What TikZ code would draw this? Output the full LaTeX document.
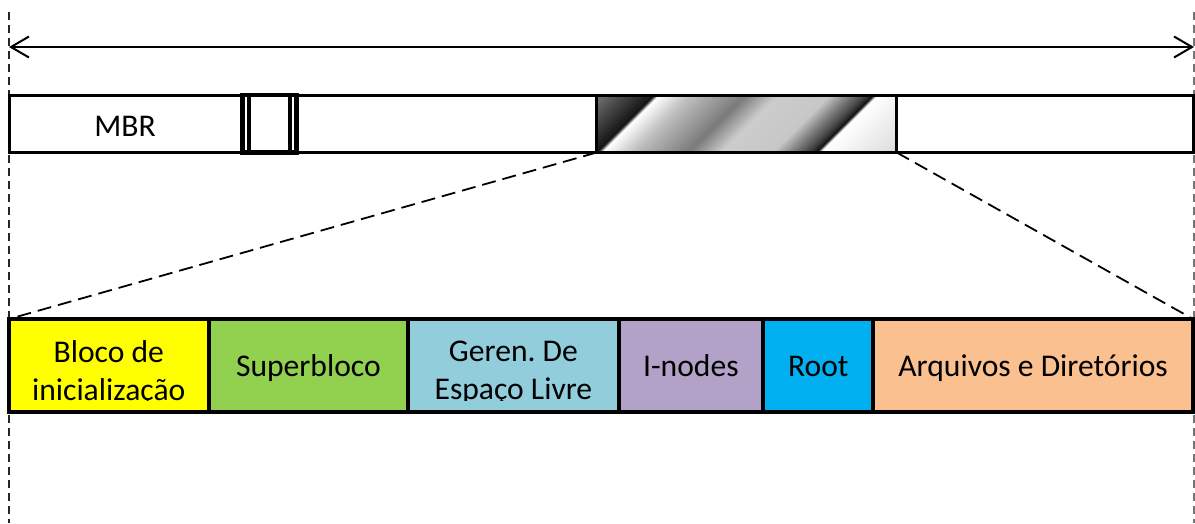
\documentclass[tikz,border=0pt]{standalone}
\usepackage{fontspec}
\setmainfont{Carlito}
\usetikzlibrary{arrows.meta}
\frenchspacing

\newcommand\lbfont{\fontsize{31.6pt}{38pt}\selectfont}

\definecolor{cyellow}{HTML}{FFFF00}
\definecolor{cgreen}{HTML}{92D050}
\definecolor{cteal}{HTML}{92CDDC}
\definecolor{cviolet}{HTML}{B2A2C7}
\definecolor{cblue}{HTML}{00B0F0}
\definecolor{corange}{HTML}{FAC090}

% brushed-metal stripes for the file-system partition
\pgfdeclarehorizontalshading{metal}{100bp}{color(0bp)=(black!55); color(29bp)=(black!55); color(35.2bp)=(black!90); color(35.6bp)=(black!93); color(36.2bp)=(white); color(39.9bp)=(black!25); color(46.4bp)=(black!52); color(50.3bp)=(black!20); color(56.4bp)=(black!22); color(60.7bp)=(black!75); color(61.6bp)=(black!93); color(62.1bp)=(white); color(71bp)=(black!14); color(100bp)=(black!14)}

\begin{document}
\begin{tikzpicture}[x=1pt,y=-1pt,
  guide/.style={line width=1.8pt, dash pattern=on 8pt off 5pt},
  zoomline/.style={line width=1.8pt, dash pattern=on 14pt off 7pt},
  bar/.style={draw, fill=white, line width=3pt, anchor=north west,
    minimum height=57.5pt, inner sep=0pt, outer sep=0pt},
  seg/.style={draw, line width=4pt, anchor=north west,
    minimum height=93pt, inner sep=0pt, outer sep=0pt},
  lbl/.style={font=\lbfont, text height=21pt, text depth=0pt, inner sep=0pt},
  lbltwo/.style={font=\lbfont, align=center, inner sep=0pt, yshift=-7.5pt}]
\useasboundingbox (0,0) rectangle (1195,523);

% disk boundaries
\coordinate (gl-top) at (9,12);
\coordinate (gl-bot) at (9,523);
\coordinate (gr-top) at (1194,12);
\coordinate (gr-bot) at (1194,523);
\draw[guide, black!85] (gl-top) -- (gl-bot);
\draw[guide, black!55, line width=1.5pt] (gr-top) -- (gr-bot);

% whole-disk extent
\coordinate (span-l) at (9,47);
\coordinate (span-r) at (1194,47);
\draw[line width=2pt, {Straight Barb[length=18pt,width=21pt]}-{Straight Barb[length=18pt,width=21pt]}] (span-l) -- (span-r);

% disk layout
\node[bar, minimum width=1184pt] (disk) at (9,95) {};
\node[lbl] (mbr) at (125,126) {MBR};
\node[draw, line width=4.5pt, minimum width=54pt, minimum height=57.5pt,
  anchor=north west, inner sep=0pt, outer sep=0pt] (vbr) at (242.5,95) {};
\draw[line width=4pt] ([xshift=6.2pt]vbr.north west) -- ([xshift=6.2pt]vbr.south west);
\draw[line width=4pt] ([xshift=-6.5pt]vbr.north east) -- ([xshift=-6.5pt]vbr.south east);
\node[bar, minimum width=300pt, path picture={
    \shade[shading=metal, shading angle=-45]
      ([shift={(-150pt,-150pt)}]path picture bounding box.center) rectangle
      ([shift={(150pt,150pt)}]path picture bounding box.center);
  }] (fs) at (596.7,95) {};

% partition layout
\node[seg, fill=cyellow, minimum width=199.5pt] (boot) at (9,319) {};
\node[seg, fill=cgreen, minimum width=199.8pt] (super) at (boot.north east) {};
\node[seg, fill=cteal, minimum width=210.2pt] (free) at (super.north east) {};
\node[seg, fill=cviolet, minimum width=144.8pt] (inodes) at (free.north east) {};
\node[seg, fill=cblue, minimum width=110pt] (root) at (inodes.north east) {};
\node[seg, fill=corange, minimum width=319.7pt] (files) at (root.north east) {};

\node[lbl] (super-t) at (super) {Superbloco};
\node[lbl] (inodes-t) at (inodes) {I-nodes};
\node[lbl] (root-t) at (root) {Root};
\node[lbl] (files-t) at (files) {Arquivos e Diretórios};
\begin{scope}
  \clip (9,319) rectangle (1193,400.5);
  \node[lbltwo] (boot-t) at (boot) {Bloco de\\inicialização};
  \node[lbltwo] (free-t) at (free) {Geren. De\\Espaço Livre};
\end{scope}

% zoom from the partition to its layout
\draw[zoomline] (fs.south west) -- (boot.north west);
\draw[zoomline] (fs.south east) -- (files.north east);
\end{tikzpicture}
\end{document}
